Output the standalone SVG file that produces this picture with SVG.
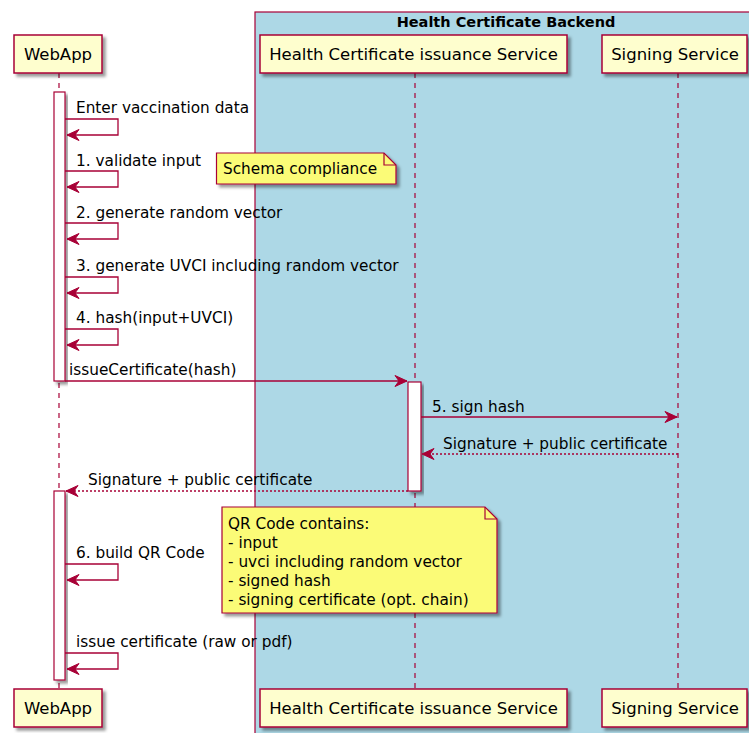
<svg xmlns="http://www.w3.org/2000/svg" width="749" height="733" viewBox="0 0 749 733">
<style>
text{font-family:"DejaVu Sans",Verdana,sans-serif;fill:#000}
.pt{font-size:16.5px;text-anchor:middle}
.msg{font-size:15.3px}
.title{font-size:14.5px;font-weight:bold;text-anchor:middle}
.part{fill:#FEFECE;stroke:#A80036;stroke-width:1.5}
.life{stroke:#A80036;stroke-width:1.2;stroke-dasharray:5,5;fill:none}
.act{fill:#FFFFFF;stroke:#A80036;stroke-width:1.2}
.note{fill:#FBFB77;stroke:#A80036;stroke-width:1.2}
.fold{fill:none;stroke:#A80036;stroke-width:1.2}
.arr{stroke:#A80036;stroke-width:1.3;fill:none;marker-end:url(#ah)}
.dash{stroke-dasharray:2,2}
</style>
<defs>
<filter id="sh" x="-20%" y="-20%" width="140%" height="140%">
<feDropShadow dx="3" dy="3" stdDeviation="1.8" flood-color="#000" flood-opacity="0.4"/>
</filter>
<marker id="ah" viewBox="-13 -7 14 14" refX="0" refY="0" markerWidth="14" markerHeight="14" markerUnits="userSpaceOnUse" orient="auto">
<path d="M0,0 L-12,-5.5 L-8,0 L-12,5.5 Z" fill="#A80036" stroke="#A80036" stroke-width="1"/>
</marker>
</defs>
<rect width="749" height="733" fill="#FFFFFF"/>
<g id="box-backend">
<rect x="255" y="12" width="520" height="740" fill="#ADD8E6" stroke="#A80036" stroke-width="1.2"/>
<text class="title" x="506" y="27">Health Certificate Backend</text>
</g>
<g id="lifelines">
<line class="life" x1="59" y1="73" x2="59" y2="689"/>
<line class="life" x1="415" y1="73" x2="415" y2="689"/>
<line class="life" x1="678" y1="73" x2="678" y2="689"/>
</g>
<g id="activations">
<rect class="act" x="54" y="92" width="11" height="289" filter="url(#sh)"/>
<rect class="act" x="408" y="382" width="13" height="109" filter="url(#sh)"/>
<rect class="act" x="54" y="491" width="11" height="189" filter="url(#sh)"/>
</g>
<g id="webapp-top">
<rect class="part" x="14" y="35" width="88" height="38" filter="url(#sh)"/>
<text class="pt" x="58" y="60">WebApp</text>
</g>
<g id="issuance-top">
<rect class="part" x="260" y="35" width="307" height="38" filter="url(#sh)"/>
<text class="pt" x="413.5" y="60">Health Certificate issuance Service</text>
</g>
<g id="signing-top">
<rect class="part" x="602" y="35" width="145" height="38" filter="url(#sh)"/>
<text class="pt" x="675" y="60">Signing Service</text>
</g>
<g id="webapp-bottom">
<rect class="part" x="14" y="689" width="88" height="38" filter="url(#sh)"/>
<text class="pt" x="58" y="714">WebApp</text>
</g>
<g id="issuance-bottom">
<rect class="part" x="260" y="689" width="307" height="38" filter="url(#sh)"/>
<text class="pt" x="413.5" y="714">Health Certificate issuance Service</text>
</g>
<g id="signing-bottom">
<rect class="part" x="602" y="689" width="145" height="38" filter="url(#sh)"/>
<text class="pt" x="675" y="714">Signing Service</text>
</g>
<g id="note-schema">
<path class="note" d="M216.5,153 H384 L396,165 V184 H216.5 Z" filter="url(#sh)"/>
<path class="fold" d="M384,153 V165 H396"/>
<text class="msg" x="223" y="173.5">Schema compliance</text>
</g>
<g id="note-qr">
<path class="note" d="M222,507 H485 L497,519 V613 H222 Z" filter="url(#sh)"/>
<path class="fold" d="M485,507 V519 H497"/>
<text class="msg" x="228" y="529">QR Code contains:</text>
<text class="msg" x="228" y="548">- input</text>
<text class="msg" x="228" y="567">- uvci including random vector</text>
<text class="msg" x="228" y="586">- signed hash</text>
<text class="msg" x="228" y="605">- signing certificate (opt. chain)</text>
</g>
<g id="connectors">
<polyline class="arr" points="65,119 118,119 118,135 67,135"/>
<text class="msg" x="76" y="112.5">Enter vaccination data</text>
<polyline class="arr" points="65,171 118,171 118,187 67,187"/>
<text class="msg" x="76" y="165.5">1. validate input</text>
<polyline class="arr" points="65,223 118,223 118,239 67,239"/>
<text class="msg" x="76" y="217.5">2. generate random vector</text>
<polyline class="arr" points="65,277 118,277 118,293 67,293"/>
<text class="msg" x="76" y="270.5">3. generate UVCI including random vector</text>
<polyline class="arr" points="65,329 118,329 118,345 67,345"/>
<text class="msg" x="76" y="323">4. hash(input+UVCI)</text>
<line class="arr" x1="65" y1="381" x2="407" y2="381"/>
<text class="msg" x="69" y="375">issueCertificate(hash)</text>
<line class="arr" x1="421" y1="417" x2="677" y2="417"/>
<text class="msg" x="432" y="412">5. sign hash</text>
<line class="arr dash" x1="678" y1="454" x2="422" y2="454"/>
<text class="msg" x="443" y="449">Signature + public certificate</text>
<line class="arr dash" x1="408" y1="491" x2="66" y2="491"/>
<text class="msg" x="88" y="485">Signature + public certificate</text>
<polyline class="arr" points="65,564 118,564 118,580 67,580"/>
<text class="msg" x="76" y="557.5">6. build QR Code</text>
<polyline class="arr" points="65,653 118,653 118,669 67,669"/>
<text class="msg" x="76" y="647">issue certificate (raw or pdf)</text>
</g>
</svg>
